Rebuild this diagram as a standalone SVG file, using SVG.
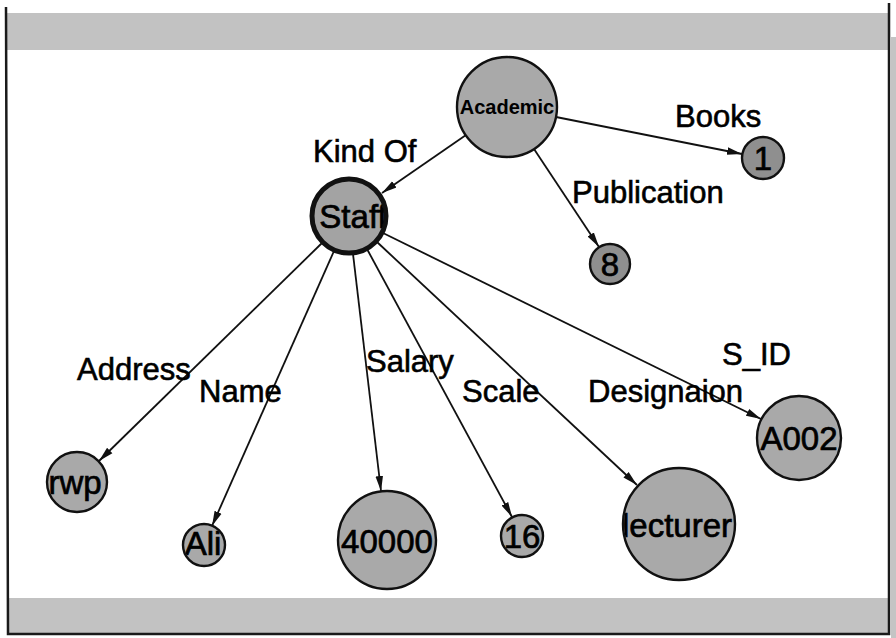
<svg xmlns="http://www.w3.org/2000/svg" width="896" height="638" viewBox="0 0 896 638">
  <style>
    .band { fill: #c2c2c2; }
    .frame { fill: none; stroke: #1a1a1a; stroke-width: 2.5; }
    .node { fill: #a9a9a9; stroke: #111; stroke-width: 2.4; }
    .node-dark { fill: #8f8f8f; stroke: #111; stroke-width: 2.4; }
    .node-main { fill: #a3a3a3; stroke: #111; stroke-width: 5; }
    .ntext { font-family: "Liberation Sans", Arial, sans-serif; font-size: 33px; fill: #000; stroke: #000; stroke-width: 0.7; text-anchor: middle; }
    .ntext-small { font-family: "Liberation Sans", Arial, sans-serif; font-size: 20px; font-weight: bold; fill: #000; text-anchor: middle; }
    .label { font-family: "Liberation Sans", Arial, sans-serif; font-size: 31px; fill: #000; stroke: #000; stroke-width: 0.6; }
    .edge { stroke: #111; stroke-width: 1.8; fill: none; marker-end: url(#arrow); }
  </style>
  <defs>
    <marker id="arrow" markerUnits="userSpaceOnUse" markerWidth="16" markerHeight="10" refX="15" refY="5" orient="auto">
      <path d="M0,1.2 L15,5 L0,8.8 Z" fill="#111"/>
    </marker>
    <clipPath id="clip-academic"><circle cx="507" cy="107" r="49"/></clipPath>
    <clipPath id="clip-staff"><circle cx="349" cy="216" r="35"/></clipPath>
    <clipPath id="clip-books"><circle cx="763" cy="158" r="20"/></clipPath>
    <clipPath id="clip-pub"><circle cx="610" cy="264" r="19"/></clipPath>
    <clipPath id="clip-rwp"><circle cx="77" cy="482" r="29"/></clipPath>
    <clipPath id="clip-ali"><circle cx="204" cy="545" r="20"/></clipPath>
    <clipPath id="clip-salary"><circle cx="387" cy="540" r="48"/></clipPath>
    <clipPath id="clip-scale"><circle cx="522" cy="536" r="20"/></clipPath>
    <clipPath id="clip-lecturer"><circle cx="679" cy="524" r="55"/></clipPath>
    <clipPath id="clip-sid"><circle cx="799" cy="438" r="41"/></clipPath>
  </defs>

  <!-- page background and frame -->
  <rect x="0" y="0" width="896" height="638" fill="#ffffff"/>
  <rect class="band" x="7" y="13" width="882" height="37"/>
  <rect class="band" x="7" y="598" width="882" height="35"/>
  <rect x="891" y="37" width="5" height="601" fill="#c4c4c4"/>
  <path class="frame" d="M6,7 L8,634 L889,634 L889,3"/>

  <!-- connectors -->
  <g id="edges">
    <line class="edge" x1="466" y1="135" x2="382" y2="193"/>
    <line class="edge" x1="556" y1="117" x2="742" y2="154"/>
    <line class="edge" x1="534" y1="149" x2="599" y2="247"/>
    <line class="edge" x1="322" y1="243" x2="99" y2="461"/>
    <line class="edge" x1="334" y1="251" x2="212" y2="526"/>
    <line class="edge" x1="353" y1="254" x2="381" y2="491"/>
    <line class="edge" x1="367" y1="249" x2="512" y2="517"/>
    <line class="edge" x1="377" y1="242" x2="637" y2="485"/>
    <line class="edge" x1="383" y1="233" x2="761" y2="419"/>
  </g>

  <!-- edge labels -->
  <g id="edge-labels">
    <text class="label" x="313" y="162">Kind Of</text>
    <text class="label" x="675" y="127">Books</text>
    <text class="label" x="572" y="203">Publication</text>
    <text class="label" x="77" y="380">Address</text>
    <text class="label" x="199" y="402">Name</text>
    <text class="label" x="366" y="372">Salary</text>
    <text class="label" x="462" y="402">Scale</text>
    <text class="label" x="588" y="402">Designaion</text>
    <text class="label" x="722" y="365">S_ID</text>
  </g>

  <!-- nodes -->
  <g id="node-academic">
    <circle class="node" cx="507" cy="107" r="50"/>
    <text class="ntext-small" x="507" y="114" clip-path="url(#clip-academic)">Academic</text>
  </g>
  <g id="node-staff">
    <circle class="node-main" cx="349" cy="216" r="37"/>
    <text class="ntext" x="353" y="228" clip-path="url(#clip-staff)">Staff</text>
  </g>
  <g id="node-books">
    <circle class="node-dark" cx="763" cy="158" r="21"/>
    <text class="ntext" x="763" y="170" clip-path="url(#clip-books)">1</text>
  </g>
  <g id="node-publication">
    <circle class="node-dark" cx="610" cy="264" r="20"/>
    <text class="ntext" x="610" y="276" clip-path="url(#clip-pub)">8</text>
  </g>
  <g id="node-rwp">
    <circle class="node" cx="77" cy="482" r="30"/>
    <text class="ntext" x="75" y="494" clip-path="url(#clip-rwp)">rwp</text>
  </g>
  <g id="node-ali">
    <circle class="node" cx="204" cy="545" r="21"/>
    <text class="ntext" x="203" y="555" clip-path="url(#clip-ali)">Ali</text>
  </g>
  <g id="node-40000">
    <circle class="node" cx="387" cy="540" r="49"/>
    <text class="ntext" x="387" y="553" clip-path="url(#clip-salary)">40000</text>
  </g>
  <g id="node-16">
    <circle class="node" cx="522" cy="536" r="21"/>
    <text class="ntext" x="522" y="548" clip-path="url(#clip-scale)">16</text>
  </g>
  <g id="node-lecturer">
    <circle class="node" cx="679" cy="524" r="56"/>
    <text class="ntext" x="677" y="537" clip-path="url(#clip-lecturer)">lecturer</text>
  </g>
  <g id="node-a002">
    <circle class="node" cx="799" cy="438" r="42"/>
    <text class="ntext" x="799" y="450" clip-path="url(#clip-sid)">A002</text>
  </g>
</svg>
